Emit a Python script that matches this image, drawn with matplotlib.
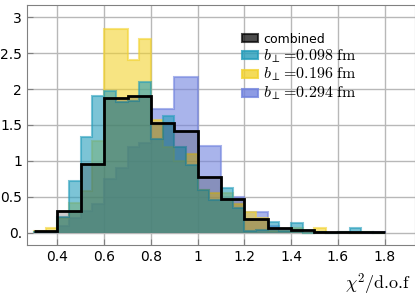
import numpy as np
import matplotlib
matplotlib.use('Agg')
import matplotlib.pyplot as plt
from matplotlib.patches import Patch

plt.rcParams['mathtext.fontset'] = 'cm'
plt.rcParams['font.family'] = ['DejaVu Sans']

# bin edges (0.05 wide for single runs, 0.1 wide for combined)
edges_fine = np.linspace(0.3, 1.8, 31)
edges_comb = np.linspace(0.3, 1.8, 16)

# normalised histograms
h_098 = [0.01, 0.01, 0.22, 0.72, 1.33, 1.90, 1.97, 1.82, 1.83, 2.10,
         1.30, 1.62, 1.20, 0.95, 0.60, 0.45, 0.63, 0.35, 0.03, 0.04,
         0.15, 0.03, 0.14, 0.00, 0.01, 0.00, 0.01, 0.07, 0.01, 0.00]
h_196 = [0.02, 0.06, 0.20, 0.42, 0.58, 1.28, 2.83, 2.83, 2.40, 2.70,
         1.57, 1.20, 1.00, 1.10, 0.60, 0.55, 0.55, 0.40, 0.29, 0.20,
         0.03, 0.03, 0.07, 0.00, 0.07, 0.00, 0.01, 0.00, 0.01, 0.00]
h_294 = [0.01, 0.01, 0.10, 0.20, 0.30, 0.40, 0.75, 0.90, 1.20, 1.25,
         1.72, 1.72, 2.17, 2.17, 1.21, 1.21, 0.50, 0.50, 0.29, 0.29,
         0.10, 0.05, 0.03, 0.00, 0.01, 0.00, 0.01, 0.00, 0.00, 0.01]
h_comb = [0.02, 0.31, 0.96, 1.87, 1.90, 1.53, 1.42, 0.77, 0.47, 0.19,
          0.065, 0.04, 0.015, 0.015, 0.005]

labels = ['combined',
          r'$b_{\perp}\!=\!0.098\;\mathrm{fm}$',
          r'$b_{\perp}\!=\!0.196\;\mathrm{fm}$',
          r'$b_{\perp}\!=\!0.294\;\mathrm{fm}$']
c_098 = '#259dbb'
c_196 = '#f2d22f'
c_294 = '#7182de'

yticks = [0, 0.5, 1, 1.5, 2, 2.5, 3]
yticklabels = ['0.', '0.5', '1', '1.5', '2', '2.5', '3']
xticks = [0.4, 0.6, 0.8, 1.0, 1.2, 1.4, 1.6, 1.8]
xticklabels = ['0.4', '0.6', '0.8', '1', '1.2', '1.4', '1.6', '1.8']

fig = plt.figure(figsize=(4.15, 2.96), dpi=100)
ax = fig.add_axes([27/415, 1 - 245/296, 1 - 27/415, 240/296])

# single runs, blue underneath
for h, c in [(h_294, c_294), (h_196, c_196), (h_098, c_098)]:
    ax.stairs(h, edges_fine, fill=True, facecolor=c, edgecolor=c,
              lw=1.5, alpha=0.6, zorder=2)

# combined: light grey veil plus black outline
ax.stairs(h_comb, edges_comb, fill=True, facecolor='black', alpha=0.2,
          lw=0, zorder=3)
ax.stairs(h_comb, edges_comb, color='black', lw=2, zorder=4, baseline=None)

ax.set_xlim(0.27, 1.93)
ax.set_ylim(-0.17, 3.17)
ax.set_xticks(xticks)
ax.set_xticklabels(xticklabels)
ax.set_yticks(yticks)
ax.set_yticklabels(yticklabels)
ax.tick_params(direction='in', length=4, color='#808080', labelsize=10,
               top=False, right=False)
ax.grid(True, color='#b8b8b8', lw=1)
ax.set_axisbelow(True)
for s in ax.spines.values():
    s.set_color('#808080')

fig.text(411/415, 1 - 284/296, r'$\chi^2/$d.o.f', fontsize=13,
         family='cmr10', ha='right', va='center')

handles = [Patch(facecolor='black', edgecolor='black', alpha=0.7, lw=1.5),
           Patch(facecolor=c_098, edgecolor=c_098, alpha=0.8, lw=1.5),
           Patch(facecolor=c_196, edgecolor=c_196, alpha=0.8, lw=1.5),
           Patch(facecolor=c_294, edgecolor=c_294, alpha=0.8, lw=1.5)]
leg = ax.legend(handles, labels, loc='upper left', bbox_to_anchor=(0.54, 0.905),
                frameon=False, fontsize=9, handlelength=1.3, handleheight=0.6,
                handletextpad=0.4, labelspacing=0.08, borderaxespad=0)
for t in leg.get_texts()[1:]:
    t.set_fontsize(11.5)

fig.savefig('out.png', dpi=100)
